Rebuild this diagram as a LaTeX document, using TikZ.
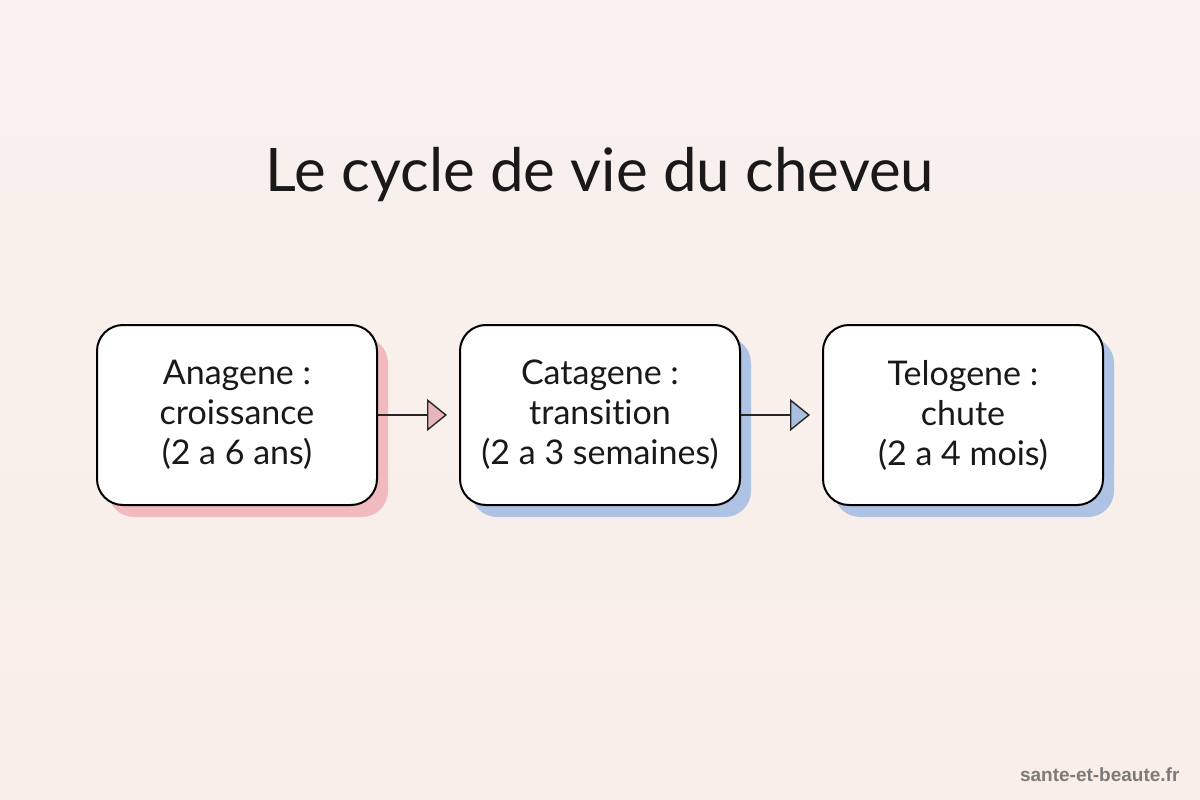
\documentclass[tikz,border=0pt]{standalone}
\usepackage{fontspec}
\setmainfont[Ligatures={NoCommon,NoRequired,NoContextual}]{Lato}
\newfontfamily\markfont{Liberation Sans}
\usetikzlibrary{arrows.meta,positioning}
\definecolor{bgA}{RGB}{248,241,238}
\definecolor{bgB}{RGB}{250,238,232}
\definecolor{pinkshade}{RGB}{240,186,190}
\definecolor{blueshade}{RGB}{174,194,228}
\definecolor{pinktip}{RGB}{232,182,186}
\definecolor{bluetip}{RGB}{170,190,226}
\definecolor{markgray}{RGB}{125,122,122}
\tikzset{
  phase/.style={draw=black, line width=2pt, fill=white, rounded corners=26pt,
    minimum width=280pt, minimum height=180pt, align=center,
    font=\fontsize{34}{40}\selectfont, text=black!90},
  shadowbox/.style={rounded corners=26pt, minimum width=280pt, minimum height=180pt},
  link/.style={line width=1.6pt, draw=black!85},
}
\begin{document}
\begin{tikzpicture}[x=1pt,y=-1pt]
\fill[top color=bgA, bottom color=bgB] (0,0) rectangle (1200,800);
\useasboundingbox (0,0) rectangle (1200,800);
\node[font=\fontsize{60}{68}\selectfont, text=black!90] (title) at (600,175) {Le cycle de vie du cheveu};
% shadows
\node[shadowbox, fill=pinkshade] (s1) at (248,427) {};
\node[shadowbox, fill=blueshade] (s2) at (611,427) {};
\node[shadowbox, fill=blueshade] (s3) at (974,427) {};
% boxes
\node[phase] (a) at (237,415) {Anagene :\\croissance\\(2 a 6 ans)};
\node[phase] (b) at (600,415) {Catagene :\\transition\\(2 a 3 semaines)};
\node[phase] (c) at (963,415) {Telogene :\\chute\\(2 a 4 mois)};
\draw[link, -{Triangle[length=20pt, width=32pt, fill=pinktip, line width=1.4pt]}] (a.east) -- ([xshift=-12pt]b.west);
\draw[link, -{Triangle[length=20pt, width=32pt, fill=bluetip, line width=1.4pt]}] (b.east) -- ([xshift=-12pt]c.west);
\node[anchor=east, font=\markfont\bfseries\fontsize{19}{22}\selectfont, text=markgray] (mark) at (1183,775) {sante-et-beaute.fr};
\end{tikzpicture}
\end{document}
